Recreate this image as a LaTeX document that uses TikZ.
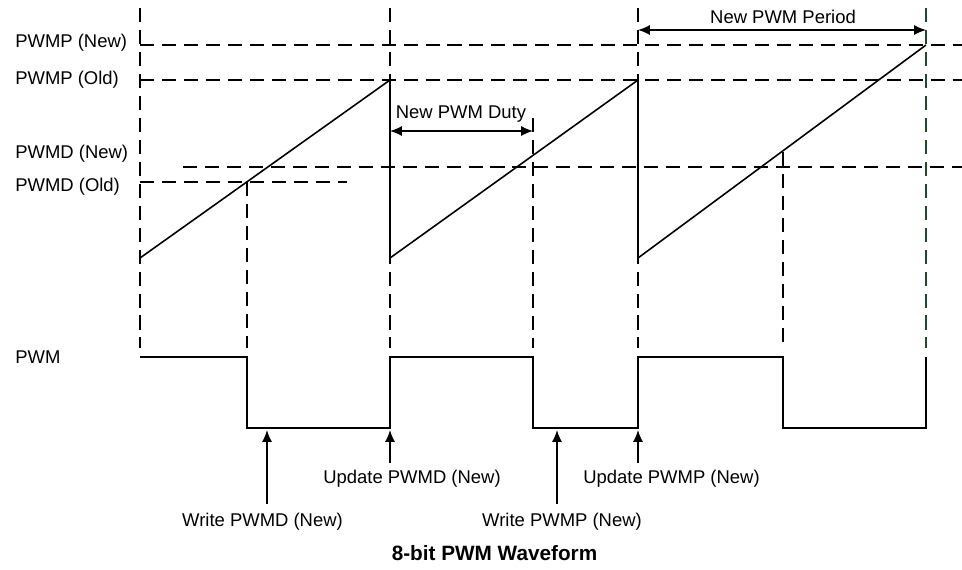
\documentclass[tikz,border=0pt]{standalone}
\usepackage{fontspec}
\setmainfont{Liberation Sans}
\usetikzlibrary{arrows.meta,positioning,calc}
\definecolor{guidegreen}{HTML}{1E4D2B}
\tikzset{
    % standard arrow tip
    >={Latex[length=6.8pt,width=5.8pt]},
    % arrow styles
    pil/.style={->, line width=0.9pt},
    dim/.style={<->, line width=0.9pt},
    % guide lines and waveforms
    guide/.style={line width=0.8pt, dash pattern=on 8pt off 4.5pt},
    wave/.style={line width=0.9pt, line join=miter},
    lbl/.style={font=\fontsize{10.5pt}{12pt}\selectfont, inner sep=0pt},
    ttl/.style={font=\fontsize{11.8pt}{14pt}\selectfont\bfseries, inner sep=0pt}
}

\begin{document}
\begin{tikzpicture}[x=0.02cm, y=-0.02cm]
\useasboundingbox (0,0) rectangle (962,569);

% level labels
\node[lbl, anchor=west] (pnew) at (15,43) {PWMP (New)};
\node[lbl, anchor=west] (pold) at (15,80) {PWMP (Old)};
\node[lbl, anchor=west] (dnew) at (15,154) {PWMD (New)};
\node[lbl, anchor=west] (dold) at (15,187) {PWMD (Old)};
\node[lbl, anchor=west] (pwm) at (15,357) {PWM};

% horizontal guides
\draw[guide] (140,45) -- (962,45);
\draw[guide] (140,80) -- (962,80);
\draw[guide] (183,167) -- (962,167);
\draw[guide] (140,182) -- (347,182);

% vertical guides
\draw[guide] (140,8) -- (140,348);
\draw[guide] (390,8) -- (390,348);
\draw[guide] (638,8) -- (638,348);
\draw[guide, guidegreen] (926,8) -- (926,348);
\draw[guide] (247,182) -- (247,348);
\draw[guide] (533,118) -- (533,348);
\draw[guide] (783,152) -- (783,348);

% counter ramp
\draw[wave] (140,258) -- (390,80) -- (390,258) -- (638,80) -- (638,258) -- (926,45);

% PWM output
\draw[wave] (140,357) -- (247,357) -- (247,428) -- (390,428) -- (390,357)
    -- (533,357) -- (533,428) -- (638,428) -- (638,357) -- (783,357)
    -- (783,428) -- (926,428) -- (926,357);

% duty and period
\coordinate (dutyL) at (390,131);
\coordinate (dutyR) at (533,131);
\draw[dim] (dutyL) -- (dutyR);
\node[lbl] (duty) at (461,114) {New PWM Duty};

\coordinate (perL) at (638,30);
\coordinate (perR) at (926,30);
\draw[dim] (perL) -- (perR);
\node[lbl] (per) at (783,17) {New PWM Period};

% events
\coordinate (wd) at (267,430);
\coordinate (ud) at (390,430);
\coordinate (wp) at (557,430);
\coordinate (up) at (638,430);
\node[lbl] (wdl) at (262.5,522) {Write PWMD (New)};
\node[lbl] (udl) at (412,479) {Update PWMD (New)};
\node[lbl] (wpl) at (562,522) {Write PWMP (New)};
\node[lbl] (upl) at (671.5,479) {Update PWMP (New)};
\draw[pil] ([yshift=5pt]wdl.north -| wd) -- (wd);
\draw[pil] ([yshift=4pt]udl.north -| ud) -- (ud);
\draw[pil] ([yshift=5pt]wpl.north -| wp) -- (wp);
\draw[pil] ([yshift=4pt]upl.north -| up) -- (up);

\node[ttl] (title) at (494.5,553) {8-bit PWM Waveform};
\end{tikzpicture}
\end{document}
